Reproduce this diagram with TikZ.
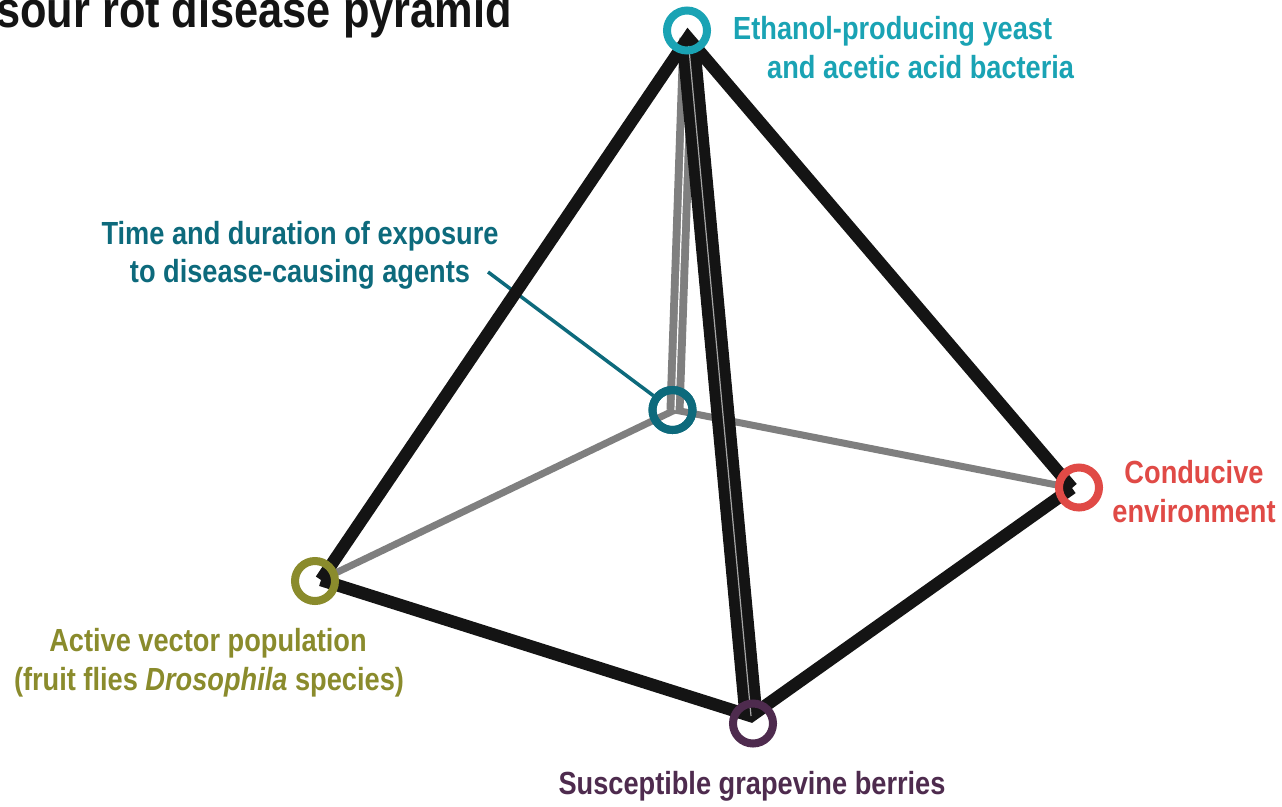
\documentclass[tikz,border=0pt]{standalone}
\usepackage{fontspec}
\setmainfont{Liberation Sans}[FakeStretch=0.85]
\usetikzlibrary{calc}
\definecolor{edgeblack}{HTML}{141414}
\definecolor{edgegray}{HTML}{7F7F7F}
\definecolor{cyanc}{HTML}{1AA3B4}
\definecolor{tealc}{HTML}{0D6A7C}
\definecolor{redc}{HTML}{E04A46}
\definecolor{olivec}{HTML}{8A8B2C}
\definecolor{purplec}{HTML}{4E2B4E}
\begin{document}
\begin{tikzpicture}[x=1pt,y=-1pt,
  blackedge/.style={draw=edgeblack,line width=12.5pt,line join=miter,miter limit=10},
  grayedge/.style={draw=edgegray,line width=7pt},
  ring/.style={circle,draw=#1,line width=8pt,minimum size=40pt,inner sep=0pt},
  lbl/.style={font=\fontsize{32}{38}\selectfont\bfseries,inner sep=0pt,text=#1},
]
\useasboundingbox (0,0) rectangle (1282,806);
\clip (0,0) rectangle (1282,806);
% vertices
\coordinate (A) at (688,38);
\coordinate (K) at (675,410);
\coordinate (L) at (321,580);
\coordinate (B) at (751,716);
\coordinate (R) at (1072,488);
% back (gray) edges
\draw[grayedge] (K) -- (L);
\draw[grayedge] (K) -- (R);
\draw[draw=edgegray,line width=17pt] (A) -- (K);
\draw[draw=white,line width=1.2pt] (A) -- (K);
% connector of the back label
\coordinate (tc) at (488,272);
\node[ring=tealc] (ringK) at (672.5,410) {};
\draw[tealc,line width=3.5pt] (tc) -- (ringK);
% front (black) edges
\draw[blackedge] (L) -- (A) -- (R);
\draw[blackedge] (L) -- (B) -- (R);
\draw[draw=edgeblack,line width=23pt,shorten <=8pt] (A) -- (B);
\draw[draw=gray!70,line width=1.2pt,shorten <=8pt] (A) -- (B);
% rings
\node[ring=tealc] at (672.5,410) {};
\node[ring=cyanc] (ringA) at (687,30.5) {};
\node[ring=redc] (ringR) at (1079,487.5) {};
\node[ring=olivec] (ringL) at (315,581) {};
\node[ring=purplec] (ringB) at (753,723.5) {};
% title
\node[anchor=base west,font=\fontsize{51}{60}\selectfont\bfseries,text=edgeblack,inner sep=0pt] (title) at (-4,27) {sour rot disease pyramid};
% labels
\node[lbl=cyanc,anchor=base west] (la1) at (733,39) {Ethanol-producing yeast};
\node[lbl=cyanc,anchor=base west] (la2) at (767,78) {and acetic acid bacteria};
\node[lbl=tealc,anchor=base] (lk1) at (300,244) {Time and duration of exposure};
\node[lbl=tealc,anchor=base] (lk2) at (300,282) {to disease-causing agents};
\node[lbl=redc,anchor=base] (lr1) at (1194,483) {Conducive};
\node[lbl=redc,anchor=base] (lr2) at (1194,522) {environment};
\node[lbl=olivec,anchor=base] (ll1) at (208,651) {Active vector population};
\node[lbl=olivec,anchor=base] (ll2) at (209,690) {(fruit flies \textit{Drosophila} species)};
\node[lbl=purplec,anchor=base] (lb) at (752,794) {Susceptible grapevine berries};
\end{tikzpicture}
\end{document}
